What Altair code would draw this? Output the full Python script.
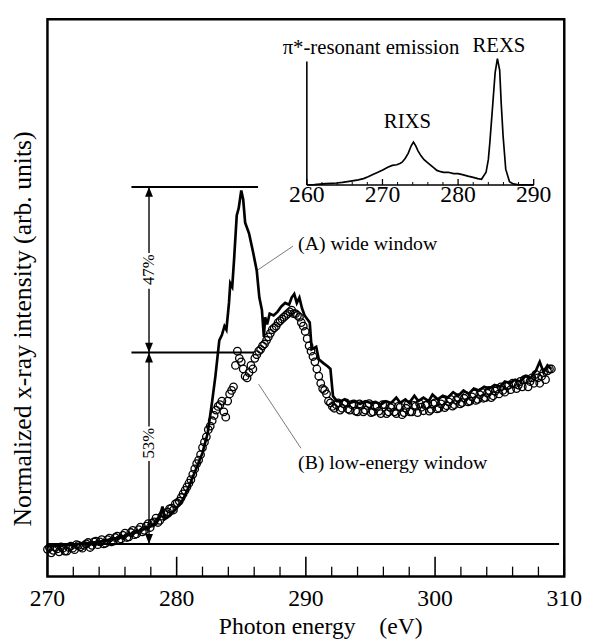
import altair as alt
import pandas as pd

# ---------------- data ----------------
# (A) wide window : solid line
A_energy = [
    270.0, 270.5, 271.0, 271.5, 272.0, 272.5, 273.0, 273.5, 274.0, 274.5,
    275.0, 275.5, 276.0, 276.5, 277.0, 277.5, 278.0, 278.4, 278.7, 278.9,
    279.1, 279.5, 280.0, 280.5, 281.0, 281.5, 282.0, 282.4, 282.75, 283.0,
    283.3, 283.5, 283.7, 283.85, 284.05, 284.15, 284.3, 284.45, 284.65, 284.8,
    285.0, 285.15, 285.3, 285.6, 285.9, 286.2, 286.4, 286.6, 286.75, 286.85,
    287.0, 287.2, 287.5, 287.8, 288.1, 288.4, 288.7, 288.9, 289.1, 289.3,
    289.5, 289.7, 289.9, 290.1, 290.3, 290.45, 290.8, 291.0, 291.4, 291.7,
    291.9, 292.1, 292.4, 292.7, 293.0, 293.4, 293.8, 294.2, 294.6, 295.0,
    295.4, 295.8, 296.2, 296.6, 297.0, 297.3, 297.7, 298.0, 298.4, 298.7,
    299.1, 299.5, 299.8, 300.2, 300.6, 301.0, 301.4, 301.8, 302.2, 302.6,
    303.0, 303.4, 303.8, 304.2, 304.6, 305.0, 305.4, 305.8, 306.2, 306.6,
    307.0, 307.4, 307.8, 308.1, 308.4, 308.7, 309.0,
]
A_intensity = [
    -0.008, -0.004, -0.006, -0.002, -0.004, 0.0, 0.002, 0.004, 0.006, 0.01,
    0.013, 0.017, 0.022, 0.028, 0.035, 0.042, 0.05, 0.06, 0.075, 0.105,
    0.07, 0.08, 0.10, 0.125, 0.165, 0.21, 0.255, 0.31, 0.40, 0.47,
    0.57, 0.585, 0.61, 0.60, 0.675, 0.73, 0.72, 0.80, 0.92, 0.94,
    0.99, 0.965, 0.90, 0.87, 0.82, 0.765, 0.69, 0.655, 0.58, 0.635,
    0.615, 0.645, 0.64, 0.65, 0.665, 0.675, 0.67, 0.69, 0.70, 0.675,
    0.69, 0.66, 0.64, 0.63, 0.62, 0.545, 0.552, 0.517, 0.505, 0.497,
    0.49, 0.414, 0.40, 0.40, 0.405, 0.395, 0.40, 0.392, 0.40, 0.395,
    0.398, 0.39, 0.40, 0.395, 0.41, 0.395, 0.405, 0.395, 0.415, 0.40,
    0.41, 0.40, 0.418, 0.405, 0.415, 0.41, 0.425, 0.415, 0.43, 0.42,
    0.435, 0.43, 0.44, 0.435, 0.445, 0.44, 0.455, 0.45, 0.46, 0.455,
    0.47, 0.465, 0.485, 0.51, 0.48, 0.50, 0.49,
]

# (B) low-energy window : open circles (two interleaved read-outs)
B_energy = [
    270.0, 270.3, 270.6, 270.9, 271.2, 271.5, 271.8, 272.1, 272.4, 272.7,
    273.0, 273.3, 273.6, 273.9, 274.2, 274.5, 274.8, 275.1, 275.4, 275.7,
    276.0, 276.3, 276.6, 276.9, 277.2, 277.5, 277.8, 278.1, 278.4, 278.7,
    279.0, 279.3, 279.6, 279.9, 280.2, 280.5, 280.8, 281.1, 281.4, 281.7,
    282.0, 282.3, 282.6, 282.9, 283.2, 283.5, 283.8, 284.1, 284.4, 284.7,
    285.0, 285.3, 285.6, 285.9, 286.2, 286.5, 286.8, 287.1, 287.4, 287.7,
    288.0, 288.3, 288.6, 288.9, 289.2, 289.5, 289.8, 290.1, 290.4, 290.7,
    291.0, 291.3, 291.6, 291.9, 292.2, 292.5, 292.8, 293.1, 293.4, 293.7,
    294.0, 294.3, 294.6, 294.9, 295.2, 295.5, 295.8, 296.1, 296.4, 296.7,
    297.0, 297.3, 297.6, 297.9, 298.2, 298.5, 298.8, 299.1, 299.4, 299.7,
    300.0, 300.3, 300.6, 300.9, 301.2, 301.5, 301.8, 302.1, 302.4, 302.7,
    303.0, 303.3, 303.6, 303.9, 304.2, 304.5, 304.8, 305.1, 305.4, 305.7,
    306.0, 306.3, 306.6, 306.9, 307.2, 307.5, 307.8, 308.1, 308.4, 308.7,
    309.0,
]
B_intensity = [
    -0.015, -0.025, -0.01, -0.022, -0.012, -0.02, -0.006, -0.016, -0.004, -0.012,
    0.0, -0.01, 0.006, -0.002, 0.012, 0.002, 0.016, 0.008, 0.022, 0.014,
    0.03, 0.02, 0.038, 0.028, 0.047, 0.038, 0.057, 0.058, 0.072, 0.066,
    0.087, 0.09, 0.10, 0.112, 0.12, 0.14, 0.16, 0.18, 0.21, 0.235,
    0.27, 0.30, 0.33, 0.36, 0.385, 0.40, 0.355, 0.42, 0.44, 0.54,
    0.51, 0.47, 0.48, 0.49, 0.53, 0.545, 0.56, 0.58, 0.60, 0.61,
    0.625, 0.635, 0.645, 0.655, 0.645, 0.635, 0.61, 0.575, 0.54, 0.51,
    0.47, 0.435, 0.42, 0.395, 0.38, 0.395, 0.38, 0.395, 0.375, 0.392,
    0.37, 0.388, 0.375, 0.393, 0.37, 0.385, 0.365, 0.39, 0.37, 0.385,
    0.365, 0.383, 0.368, 0.39, 0.37, 0.385, 0.393, 0.373, 0.39, 0.377,
    0.395, 0.38, 0.4, 0.387, 0.405, 0.39, 0.41, 0.396, 0.415, 0.4,
    0.42, 0.405, 0.425, 0.41, 0.43, 0.415, 0.435, 0.44, 0.425, 0.445,
    0.45, 0.435, 0.455, 0.46, 0.44, 0.465, 0.475, 0.45, 0.48, 0.485,
    0.49,
]
B2_energy = [
    270.15, 270.45, 270.75, 271.05, 271.35, 271.65, 271.95, 272.25, 272.55, 272.85,
    273.15, 273.45, 273.75, 274.05, 274.35, 274.65, 274.95, 275.25, 275.55, 275.85,
    276.15, 276.45, 276.75, 277.05, 277.35, 277.65, 277.95, 278.25, 278.55, 278.85,
    279.15, 279.45, 279.75, 280.05, 280.35, 280.65, 280.95, 281.25, 281.55, 281.85,
    282.15, 282.45, 282.75, 283.05, 283.35, 283.65, 283.95, 284.25, 284.55, 284.85,
    285.15, 285.45, 285.75, 286.05, 286.35, 286.65, 286.95, 287.25, 287.55, 287.85,
    288.15, 288.45, 288.75, 289.05, 289.35, 289.65, 289.95, 290.25, 290.55, 290.85,
    291.15, 291.45, 291.75, 292.05, 292.35, 292.65, 292.95, 293.25, 293.55, 293.85,
    294.15, 294.45, 294.75, 295.05, 295.35, 295.65, 295.95, 296.25, 296.55, 296.85,
    297.15, 297.45, 297.75, 298.05, 298.35, 298.65, 298.95, 299.25, 299.55, 299.85,
    300.15, 300.45, 300.75, 301.05, 301.35, 301.65, 301.95, 302.25, 302.55, 302.85,
    303.15, 303.45, 303.75, 304.05, 304.35, 304.65, 304.95, 305.25, 305.55, 305.85,
    306.15, 306.45, 306.75, 307.05, 307.35, 307.65, 307.95, 308.25, 308.55, 308.85,
]
B2_intensity = [
    -0.01, -0.018, -0.014, -0.008, -0.02, -0.01, -0.012, -0.002, -0.008, -0.004,
    0.004, -0.004, 0.008, 0.006, 0.0, 0.012, 0.006, 0.018, 0.012, 0.024,
    0.018, 0.032, 0.026, 0.04, 0.034, 0.05, 0.046, 0.062, 0.06, 0.078,
    0.082, 0.098, 0.095, 0.115, 0.13, 0.15, 0.17, 0.195, 0.225, 0.25,
    0.285, 0.32, 0.345, 0.375, 0.39, 0.37, 0.40, 0.43, 0.50, 0.52,
    0.49, 0.465, 0.50, 0.52, 0.54, 0.555, 0.57, 0.59, 0.605, 0.62,
    0.63, 0.64, 0.65, 0.645, 0.64, 0.62, 0.595, 0.555, 0.525, 0.49,
    0.45, 0.43, 0.40, 0.385, 0.39, 0.375, 0.392, 0.378, 0.39, 0.372,
    0.392, 0.37, 0.388, 0.368, 0.385, 0.372, 0.39, 0.365, 0.382, 0.37,
    0.385, 0.362, 0.38, 0.37, 0.388, 0.368, 0.383, 0.388, 0.372, 0.392,
    0.378, 0.392, 0.382, 0.398, 0.386, 0.402, 0.392, 0.408, 0.398, 0.412,
    0.402, 0.418, 0.408, 0.422, 0.41, 0.428, 0.42, 0.43, 0.442, 0.432,
    0.448, 0.445, 0.44, 0.462, 0.455, 0.45, 0.465, 0.47, 0.46, 0.49,
]

# inset: pi*-resonant emission spectrum
inset_energy = [
    260.0, 261.0, 262.5, 264.0, 264.7, 265.8, 266.8, 267.5, 268.1, 268.8,
    269.4, 270.1, 270.7, 271.3, 271.9, 272.3, 272.6, 273.0, 273.4, 273.8,
    274.1, 274.4, 274.7, 275.1, 275.5, 276.0, 276.4, 276.8, 277.2, 277.7,
    278.1, 278.7, 279.4, 280.0, 280.7, 281.3, 282.0, 282.6, 283.1, 283.7,
    284.0, 284.2, 284.6, 284.9, 285.2, 285.5, 285.7, 285.95, 286.3, 286.8,
    287.3, 288.0, 289.0, 290.0,
]
inset_intensity = [
    0.0, 0.003, 0.01, 0.015, 0.02, 0.03, 0.04, 0.05, 0.065, 0.085,
    0.10, 0.12, 0.14, 0.155, 0.16, 0.17, 0.18, 0.21, 0.25, 0.31,
    0.34, 0.31, 0.27, 0.23, 0.20, 0.175, 0.155, 0.135, 0.115, 0.105,
    0.10, 0.10, 0.09, 0.09, 0.08, 0.07, 0.06, 0.05, 0.045, 0.10,
    0.20, 0.335, 0.65, 0.89, 1.0, 0.91, 0.65, 0.39, 0.125, 0.025,
    0.008, 0.0, 0.0, 0.0,
]

# ticks
x_major = [270, 280, 290, 300, 310]
x_minor = [272, 274, 276, 278, 282, 284, 286, 288, 292, 294, 296, 298,
           302, 304, 306, 308]
inset_major = [260, 270, 280, 290]
inset_minor = [262, 264, 266, 268, 272, 274, 276, 278, 282, 284, 286, 288]

x_title = ["Photon energy\u00a0\u00a0\u00a0\u00a0(eV)"]
y_title = ["Normalized x-ray intensity (arb. units)"]

# annotation anchors (data units)
arrow_E = 277.86
seg_lo = [0.815, 0.536, 0.329, 0.0]
seg_hi = [1.0, 0.715, 0.536, 0.232]
up_tips = [1.0, 0.536]
down_tips = [0.536, 0.0]
hline_x0 = [276.5, 276.5, 270.0]
hline_x1 = [286.3, 286.0, 309.6]
hline_v = [1.0, 0.536, 0.0]
pct_labels = ["47%", "53%"]
pct_v = [0.768, 0.282]
note_labels = ["(A) wide window", "(B) low-energy window"]
note_E = [289.4, 289.4]
note_v = [0.823, 0.21]
leader_E0 = [289.0, 286.34]
leader_v0 = [0.834, 0.4475]
leader_E1 = [286.18, 289.62]
leader_v1 = [0.765, 0.268]

inset_note_labels = ["\u03c0*-resonant emission", "REXS", "RIXS"]
inset_note_E = [256.8, 285.4, 273.3]
inset_note_v = [1.034, 1.055, 0.453]
inset_note_align = ["left", "center", "center"]

# ---------------- chart ----------------
SERIF = "Liberation Serif"
W, H = 524, 565

xs = alt.Scale(domain=[270, 310], nice=False, zero=False)
ys = alt.Scale(domain=[-0.0912, 1.4696], nice=False, zero=False)
xi = alt.Scale(domain=[260, 290], range=[263, 493], nice=False, zero=False)
yi = alt.Scale(domain=[0, 1], range=[168, 40], nice=False, zero=False)


def MX(f):
    return alt.X(f, type="quantitative", scale=xs, axis=None)


def MY(f):
    return alt.Y(f, type="quantitative", scale=ys, axis=None)


def IX(f):
    return alt.X(f, type="quantitative", scale=xi, axis=None)


def IY(f):
    return alt.Y(f, type="quantitative", scale=yi, axis=None)


dfA = pd.DataFrame({"E": A_energy, "v": A_intensity})
dfB = pd.DataFrame({"E": B_energy + B2_energy, "v": B_intensity + B2_intensity})

line_A = alt.Chart(dfA).mark_line(color="black", strokeWidth=2.7).encode(
    x=MX("E"), y=MY("v"))

pts_B = alt.Chart(dfB).mark_point(
    shape="circle", size=58, filled=False, color="black", strokeWidth=1.3, opacity=1
).encode(x=MX("E"), y=MY("v"))

hlines = alt.Chart(pd.DataFrame({"x0": hline_x0, "x1": hline_x1, "v": hline_v})).mark_rule(
    color="black", strokeWidth=2).encode(x=MX("x0"), x2="x1", y=MY("v"))

segs = alt.Chart(pd.DataFrame({"E": [arrow_E] * len(seg_lo), "lo": seg_lo, "hi": seg_hi})).mark_rule(
    color="black", strokeWidth=1.4).encode(x=MX("E"), y=MY("lo"), y2="hi")

arr_up = alt.Chart(pd.DataFrame({"E": [arrow_E] * len(up_tips), "v": up_tips})).mark_point(
    shape="M0,0L0.8,2L-0.8,2Z", size=100, filled=True, color="black", opacity=1, strokeWidth=0
).encode(x=MX("E"), y=MY("v"))
arr_down = alt.Chart(pd.DataFrame({"E": [arrow_E] * len(down_tips), "v": down_tips})).mark_point(
    shape="M0,0L0.8,-2L-0.8,-2Z", size=100, filled=True, color="black", opacity=1, strokeWidth=0
).encode(x=MX("E"), y=MY("v"))

ticks_major = alt.Chart(pd.DataFrame({"t": x_major})).mark_rule(
    color="black", strokeWidth=1.6).encode(x=MX("t"), y=alt.value(H), y2=alt.value(H - 20))
ticks_minor = alt.Chart(pd.DataFrame({"t": x_minor})).mark_rule(
    color="black", strokeWidth=1.3).encode(x=MX("t"), y=alt.value(H), y2=alt.value(H - 10))
tick_labels = alt.Chart(pd.DataFrame({"t": x_major})).mark_text(
    font=SERIF, fontSize=24, align="center", baseline="alphabetic", color="black"
).encode(x=MX("t"), y=alt.value(H + 30), text="t:Q")

xtitle = alt.Chart(pd.DataFrame({"label": x_title})).mark_text(
    font=SERIF, fontSize=24, align="center", baseline="alphabetic", color="black"
).encode(x=alt.value(277), y=alt.value(H + 58), text="label:N")
ytitle = alt.Chart(pd.DataFrame({"label": y_title})).mark_text(
    font=SERIF, fontSize=26, align="center", baseline="middle", angle=270, color="black"
).encode(x=alt.value(-25), y=alt.value(314), text="label:N")

pct_text = alt.Chart(pd.DataFrame({"E": [arrow_E] * 2, "v": pct_v, "label": pct_labels})).mark_text(
    font=SERIF, fontSize=17, angle=270, align="center", baseline="middle", color="black"
).encode(x=MX("E"), y=MY("v"), text="label:N")

notes = alt.Chart(pd.DataFrame({"E": note_E, "v": note_v, "label": note_labels})).mark_text(
    font=SERIF, fontSize=20, align="left", baseline="alphabetic", color="black"
).encode(x=MX("E"), y=MY("v"), text="label:N")

leaders = alt.Chart(pd.DataFrame({"e0": leader_E0, "v0": leader_v0,
                                  "e1": leader_E1, "v1": leader_v1})).mark_rule(
    color="#555555", strokeWidth=0.8).encode(x=MX("e0"), y=MY("v0"), x2="e1", y2="v1")

main = alt.layer(hlines, segs, arr_up, arr_down, ticks_major, ticks_minor,
                 leaders, pts_B, line_A, pct_text, notes, tick_labels,
                 xtitle, ytitle)

# ---------------- inset ----------------
dfI = pd.DataFrame({"E": inset_energy, "v": inset_intensity})
inset_line = alt.Chart(dfI).mark_line(color="black", strokeWidth=1.7).encode(
    x=IX("E"), y=IY("v"))

inset_base = alt.Chart(pd.DataFrame({"x0": [260], "x1": [290], "v": [0]})).mark_rule(
    color="black", strokeWidth=1.6).encode(x=IX("x0"), x2="x1", y=IY("v"))
inset_left = alt.Chart(pd.DataFrame({"E": [260], "lo": [0], "hi": [0.977]})).mark_rule(
    color="black", strokeWidth=1.6).encode(x=IX("E"), y=IY("lo"), y2="hi")

inset_tmaj = alt.Chart(pd.DataFrame({"t": inset_major})).mark_rule(
    color="black", strokeWidth=1.3).encode(x=IX("t"), y=alt.value(168), y2=alt.value(162))
inset_tmin = alt.Chart(pd.DataFrame({"t": inset_minor})).mark_rule(
    color="black", strokeWidth=1.0).encode(x=IX("t"), y=alt.value(168), y2=alt.value(165))
inset_tlab = alt.Chart(pd.DataFrame({"t": inset_major})).mark_text(
    font=SERIF, fontSize=24, align="center", baseline="alphabetic", color="black"
).encode(x=IX("t"), y=alt.value(185), text="t:Q")

inset_notes = alt.layer(*[
    alt.Chart(pd.DataFrame({"E": [inset_note_E[i]], "v": [inset_note_v[i]],
                            "label": [inset_note_labels[i]]})).mark_text(
        font=SERIF, fontSize=21, align=inset_note_align[i], baseline="alphabetic", color="black"
    ).encode(x=IX("E"), y=IY("v"), text="label:N")
    for i in range(len(inset_note_labels))
])

inset = alt.layer(inset_base, inset_left, inset_tmaj, inset_tmin, inset_line,
                  inset_tlab, inset_notes)

chart = alt.layer(main, inset).resolve_scale(
    x="independent", y="independent"
).properties(
    width=W, height=H,
    autosize=alt.AutoSizeParams(type="none"),
    padding={"left": 40, "top": 7, "right": 20, "bottom": 60},
).configure_view(
    stroke="black", strokeWidth=2.5
)

chart.save("out.html", embed_options={"renderer": "svg", "actions": False})
